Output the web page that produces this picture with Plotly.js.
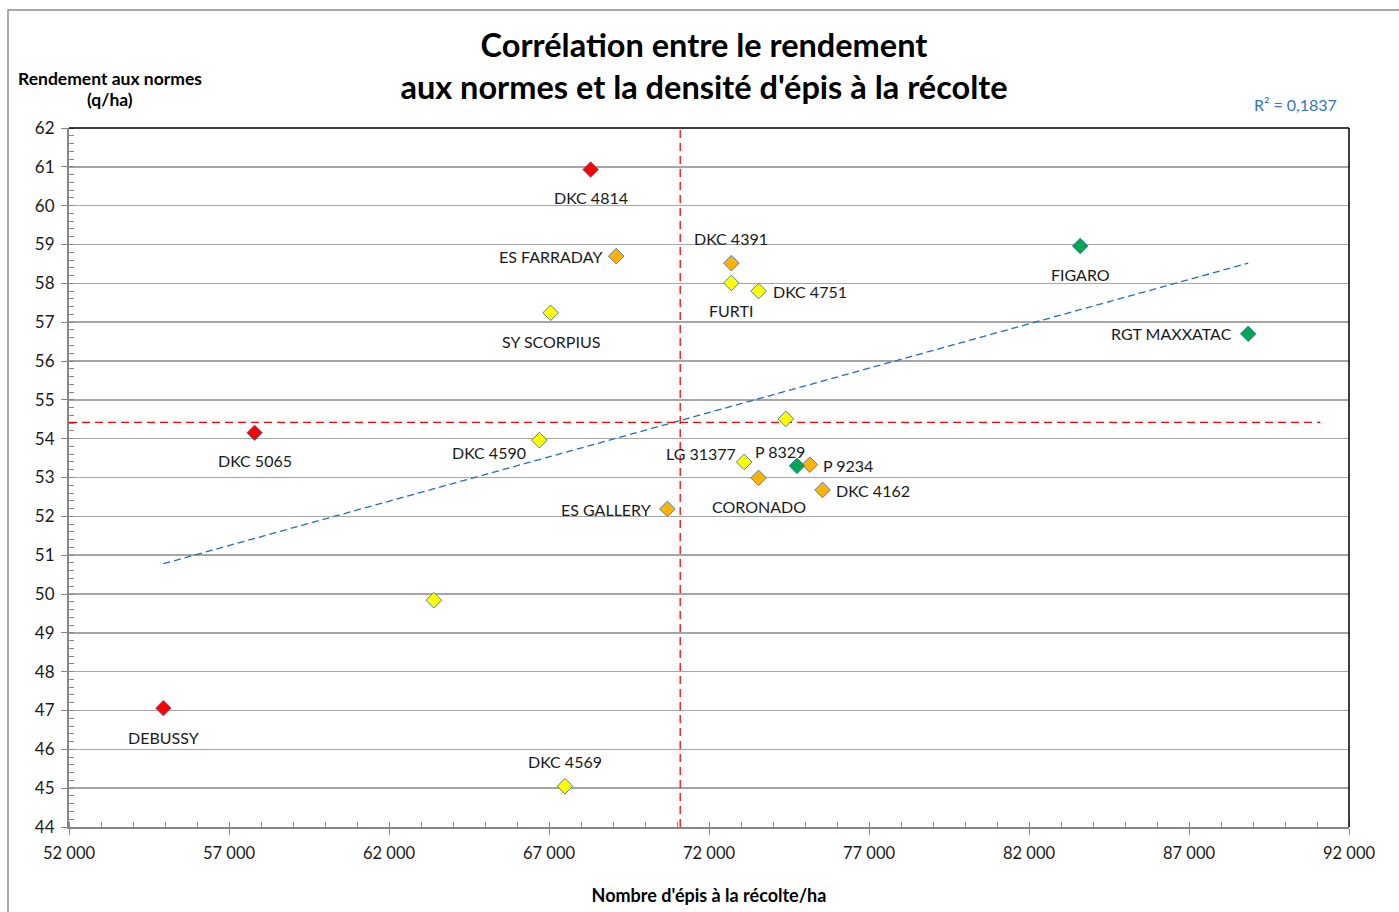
<!DOCTYPE html>
<html>
<head>
<meta charset="utf-8">
<script src="https://cdn.plot.ly/plotly-3.0.1.min.js"></script>
<style>html,body{margin:0;padding:0;background:#fff;}#chart{width:1399px;height:912px;}</style>
</head>
<body>
<div id="chart"></div>
<script>
// ---- data ----
const hybrids = ["DKC 4814","ES FARRADAY","DKC 4391","FURTI","DKC 4751","SY SCORPIUS","FIGARO","RGT MAXXATAC","DKC 5065","DKC 4590","","LG 31377","P 8329","P 9234","CORONADO","DKC 4162","ES GALLERY","","DEBUSSY","DKC 4569"];
const ears   = [68300,69100,72700,72700,73550,67050,83600,88850,57800,66700,74400,73100,74750,75150,73550,75550,70700,63400,54950,67500];
const yields = [60.93,58.70,58.52,58.01,57.80,57.24,58.96,56.70,54.15,53.96,54.51,53.40,53.30,53.33,52.99,52.68,52.19,49.84,47.06,45.05];
const groups = ["red","orange","orange","yellow","yellow","yellow","green","green","red","yellow","yellow","yellow","green","orange","orange","orange","orange","yellow","red","yellow"];
const meanEars = 71100;
const meanYield = 54.42;
const trendX = [54950, 88850];
const trendY = [50.78, 58.52];
const r2Text = "R² = 0,1837";

// ---- styles ----
const colorMap = {red:"#ff0000", orange:"#ffb300", yellow:"#ffff00", green:"#00a651"};
// label placement: [xanchor, yanchor, xshift, yshift]
const labelPlace = [
  ["center","middle",0,-28],["right","middle",-12,0],["center","middle",0,25],["center","middle",0,-28],
  ["left","middle",12,0],["center","middle",0,-29],["center","middle",0,-28],["right","middle",-14,0],
  ["center","middle",0,-28],["right","middle",-11,-12],["center","middle",0,0],["right","middle",-6,8],
  ["center","middle",-17,14],["left","middle",11,-1],["center","middle",0,-29],["left","middle",11,-1],
  ["right","middle",-14,-1],["center","middle",0,0],["center","middle",0,-29],["center","middle",0,25]
];
const FONT = "Lato, 'Open Sans', sans-serif";

const traces = [];
const groupOrder = ["red","orange","yellow","green"];
groupOrder.forEach(g => {
  const xs = [], ys = [];
  ears.forEach((e,i) => { if (groups[i] === g) { xs.push(e); ys.push(yields[i]); } });
  traces.push({x: xs, y: ys, type: "scatter", mode: "markers", showlegend: false, hoverinfo: "skip",
    marker: {symbol: "diamond", size: 12, color: colorMap[g], line: {color: "#4a7ebb", width: 1}}});
});
// mean lines
traces.unshift({x: [52000, 91100], y: [meanYield, meanYield], type: "scatter", mode: "lines", showlegend: false,
  hoverinfo: "skip", line: {color: "#ff0000", width: 1.3, dash: "8px,5px"}});
traces.unshift({x: [meanEars, meanEars], y: [44, 62], type: "scatter", mode: "lines", showlegend: false,
  hoverinfo: "skip", line: {color: "#ff0000", width: 1.3, dash: "8px,5px"}});
// trendline
traces.unshift({x: trendX, y: trendY, type: "scatter", mode: "lines", showlegend: false,
  hoverinfo: "skip", line: {color: "#1f6fc0", width: 1.3, dash: "7px,4px"}});

const annotations = [];
hybrids.forEach((h,i) => {
  if (!h) return;
  const p = labelPlace[i];
  annotations.push({x: ears[i], y: yields[i], xref: "x", yref: "y", text: h, showarrow: false,
    xanchor: p[0], yanchor: p[1], xshift: p[2], yshift: p[3], font: {family: FONT, size: 16, color: "#1a1a1a"}});
});
annotations.push({xref: "paper", yref: "paper", x: 0.032, y: (827-78)/699, text: "<b>Rendement aux normes</b>", showarrow: false,
  xanchor: "center", yanchor: "middle", font: {family: FONT, size: 17.5, color: "#000"}});
annotations.push({xref: "paper", yref: "paper", x: 0.032, y: (827-100)/699, text: "<b>(q/ha)</b>", showarrow: false,
  xanchor: "center", yanchor: "middle", font: {family: FONT, size: 17.5, color: "#000"}});
annotations.push({xref: "paper", yref: "paper", x: 0.958, y: 1.033, text: r2Text, showarrow: false,
  xanchor: "center", yanchor: "middle", font: {family: FONT, size: 16, color: "#2e75c6"}});

const layout = {
  width: 1399, height: 912,
  margin: {l: 69, r: 50, t: 128, b: 85},
  paper_bgcolor: "#fff", plot_bgcolor: "#fff",
  separators: ", ",
  title: {text: "<b>Corrélation entre le rendement<br>aux normes et la densité d'épis à la récolte</b>",
    x: 704/1399, xref: "container", xanchor: "center", y: 1 - 57/912, yanchor: "middle",
    font: {family: FONT, size: 32.5, color: "#000"}},
  xaxis: {range: [52000, 92000], dtick: 5000, tick0: 52000, tickformat: ",d", showgrid: false, zeroline: false,
    showline: true, linecolor: "#868686", linewidth: 2, ticks: "outside", ticklen: 6, tickcolor: "#868686", tickwidth: 1,
    ticklabelstandoff: 4,
    minor: {dtick: 1000, ticks: "inside", ticklen: 5, tickcolor: "#868686", showgrid: false},
    tickfont: {family: FONT, size: 16.5, color: "#1a1a1a"},
    title: {text: "<b>Nombre d'épis à la récolte/ha</b>", standoff: 28, font: {family: FONT, size: 18, color: "#000"}}},
  yaxis: {range: [44, 62], dtick: 1, showgrid: true, gridcolor: "#a6a6a6", gridwidth: 1.5, zeroline: false,
    showline: true, linecolor: "#868686", linewidth: 2, ticks: "outside", ticklen: 6, tickcolor: "#868686", tickwidth: 1,
    ticklabelstandoff: 3,
    minor: {dtick: 0.2, ticks: "inside", ticklen: 5, tickcolor: "#868686", showgrid: false},
    tickfont: {family: FONT, size: 17, color: "#1a1a1a"}},
  annotations: annotations,
  shapes: [
    {type: "line", xref: "paper", yref: "paper", x0: 0, x1: 1, y0: 1, y1: 1, line: {color: "#000", width: 1.5}},
    {type: "line", xref: "paper", yref: "paper", x0: 1, x1: 1, y0: 0, y1: 1, line: {color: "#000", width: 1.5}},
    {type: "rect", xref: "paper", yref: "paper", x0: (8-69)/1280, x1: (1420-69)/1280, y0: (827-930)/699, y1: (827-10)/699,
      line: {color: "#8c8c8c", width: 1.5}, fillcolor: "rgba(0,0,0,0)", layer: "below"}
  ]
};

Plotly.newPlot("chart", traces, layout, {staticPlot: true});
</script>
</body>
</html>
